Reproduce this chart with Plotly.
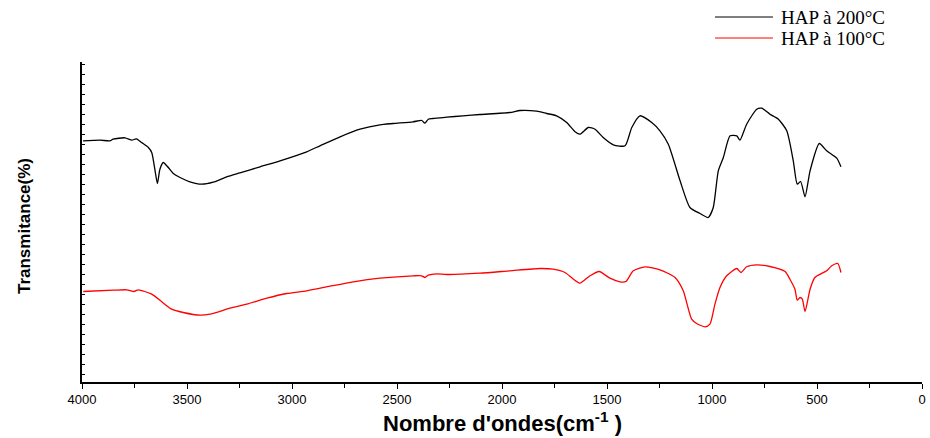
import plotly.graph_objects as go

# FTIR spectra of hydroxyapatite (HAP) calcined at two temperatures
wn_200 = [3995, 3914, 3867, 3852, 3795, 3763, 3748, 3740, 3716, 3684, 3668, 3652,
          3641, 3629, 3613, 3589, 3565, 3533, 3486, 3430, 3375, 3311, 3248, 3152,
          3057, 2930, 2867, 2771, 2676, 2581, 2519, 2424, 2382, 2367, 2351, 2329,
          2263, 2186, 2105, 1962, 1914, 1835, 1787, 1740, 1692, 1652, 1629, 1589,
          1557, 1518, 1470, 1414, 1382, 1343, 1287, 1248, 1208, 1152, 1105, 1057,
          1018, 994, 970, 946, 914, 882, 867, 835, 787, 763, 724, 684, 644, 613,
          594, 578, 557, 533, 489, 454, 406, 386]
t_200 = [24.37, 24.43, 24.37, 24.53, 24.67, 24.43, 24.53, 24.57, 24.2, 23.7, 23.2, 21.37,
         20.1, 21.53, 22.2, 21.7, 21.1, 20.7, 20.27, 20.03, 20.23, 20.77, 21.17, 21.77,
         22.37, 23.27, 23.87, 24.77, 25.53, 25.97, 26.1, 26.27, 26.4, 26.13, 26.53, 26.6,
         26.73, 26.87, 27.0, 27.2, 27.4, 27.33, 27.1, 26.87, 26.2, 25.27, 25.03, 25.7,
         25.53, 24.7, 23.97, 23.87, 25.7, 26.87, 26.2, 25.37, 24.03, 20.37, 17.7, 17.1,
         16.7, 17.7, 21.37, 22.7, 24.87, 24.87, 24.43, 26.03, 27.53, 27.63, 27.03, 26.53,
         25.37, 22.37, 20.03, 20.3, 18.77, 21.37, 24.1, 23.37, 22.63, 21.77]

wn_100 = [3994, 3851, 3787, 3752, 3732, 3668, 3620, 3573, 3518, 3438, 3390, 3295,
          3216, 3120, 3025, 2930, 2819, 2708, 2581, 2422, 2382, 2367, 2351, 2311,
          2263, 2105, 1962, 1819, 1756, 1700, 1660, 1629, 1581, 1537, 1486, 1438,
          1410, 1375, 1319, 1248, 1176, 1137, 1097, 1073, 1033, 1010, 986, 962,
          930, 882, 862, 835, 787, 724, 652, 629, 605, 594, 581, 570, 557, 533,
          510, 454, 430, 401, 386]
t_100 = [9.3, 9.43, 9.47, 9.3, 9.47, 9.03, 8.27, 7.53, 7.2, 6.93, 7.03, 7.63,
         8.03, 8.63, 9.1, 9.37, 9.83, 10.27, 10.63, 10.87, 10.87, 10.7, 10.93, 11.07,
         11.0, 11.13, 11.37, 11.6, 11.53, 11.2, 10.53, 10.13, 10.87, 11.3, 10.63, 10.27,
         10.3, 11.37, 11.77, 11.47, 10.7, 9.37, 6.53, 6.1, 5.77, 6.03, 8.03, 9.7,
         10.87, 11.6, 11.2, 11.77, 11.97, 11.8, 11.3, 10.53, 9.53, 8.43, 8.7, 8.53, 7.3, 9.53,
         10.7, 11.37, 11.87, 12.1, 11.2]

series_names = ["HAP à 200°C", "HAP à 100°C"]
series_colors = ["#000000", "#ff0000"]

x_ticks = [4000, 3500, 3000, 2500, 2000, 1500, 1000, 500, 0]
x_title = "<b>Nombre d'ondes(cm<sup>-1</sup> )</b>"
y_title = "<b>Transmitance(%)</b>"

fig = go.Figure()
for wn, t, name, color in [(wn_200, t_200, series_names[0], series_colors[0]),
                           (wn_100, t_100, series_names[1], series_colors[1])]:
    fig.add_trace(go.Scatter(x=wn, y=t, mode="lines", name=name,
                             line=dict(color=color, width=1.3, shape="spline", smoothing=0.6),
                             showlegend=False))

# Legend drawn by hand in the top right corner
legend_y = [1.1406, 1.075]
for name, color, yy in zip(series_names, series_colors, legend_y):
    fig.add_shape(type="line", xref="paper", yref="paper",
                  x0=0.7536, x1=0.8226, y0=yy, y1=yy,
                  line=dict(color=color, width=1))
    fig.add_annotation(xref="paper", yref="paper", x=0.8300, y=yy,
                       xanchor="left", yanchor="middle", showarrow=False,
                       text=name, font=dict(family="Liberation Serif", size=19, color="black"))

# Axis titles placed as free text under / beside the axes
fig.add_annotation(xref="paper", yref="paper", x=0.5, y=-0.125,
                   xanchor="center", yanchor="middle", showarrow=False,
                   text=x_title, font=dict(family="Liberation Sans", size=22, color="black"))
fig.add_annotation(xref="paper", yref="paper", x=-0.069, y=0.4875,
                   xanchor="center", yanchor="middle", showarrow=False, textangle=-90,
                   text=y_title, font=dict(family="Liberation Sans", size=17, color="black"))

fig.update_layout(
    width=930, height=438,
    margin=dict(l=82, r=8, t=62, b=56, autoexpand=False),
    paper_bgcolor="white", plot_bgcolor="white",
    font=dict(family="Liberation Sans", color="black"),
    xaxis=dict(
        range=[4000, 0], tickvals=x_ticks, ticktext=[str(v) for v in x_ticks],
        ticks="outside", ticklen=5, tickwidth=1, tickcolor="black",
        minor=dict(dtick=250, ticks="outside", ticklen=4, tickcolor="black"),
        showline=True, linecolor="black", linewidth=1.5,
        showgrid=False, zeroline=False, automargin=False,
        tickfont=dict(size=13, family="Liberation Sans"),
    ),
    yaxis=dict(
        range=[0.25, 32.25], tick0=0, dtick=1, showticklabels=False,
        ticks="inside", ticklen=3, tickcolor="black",
        showline=True, linecolor="black", linewidth=1.5,
        showgrid=False, zeroline=False, automargin=False,
    ),
)

fig.write_html("out.html")
